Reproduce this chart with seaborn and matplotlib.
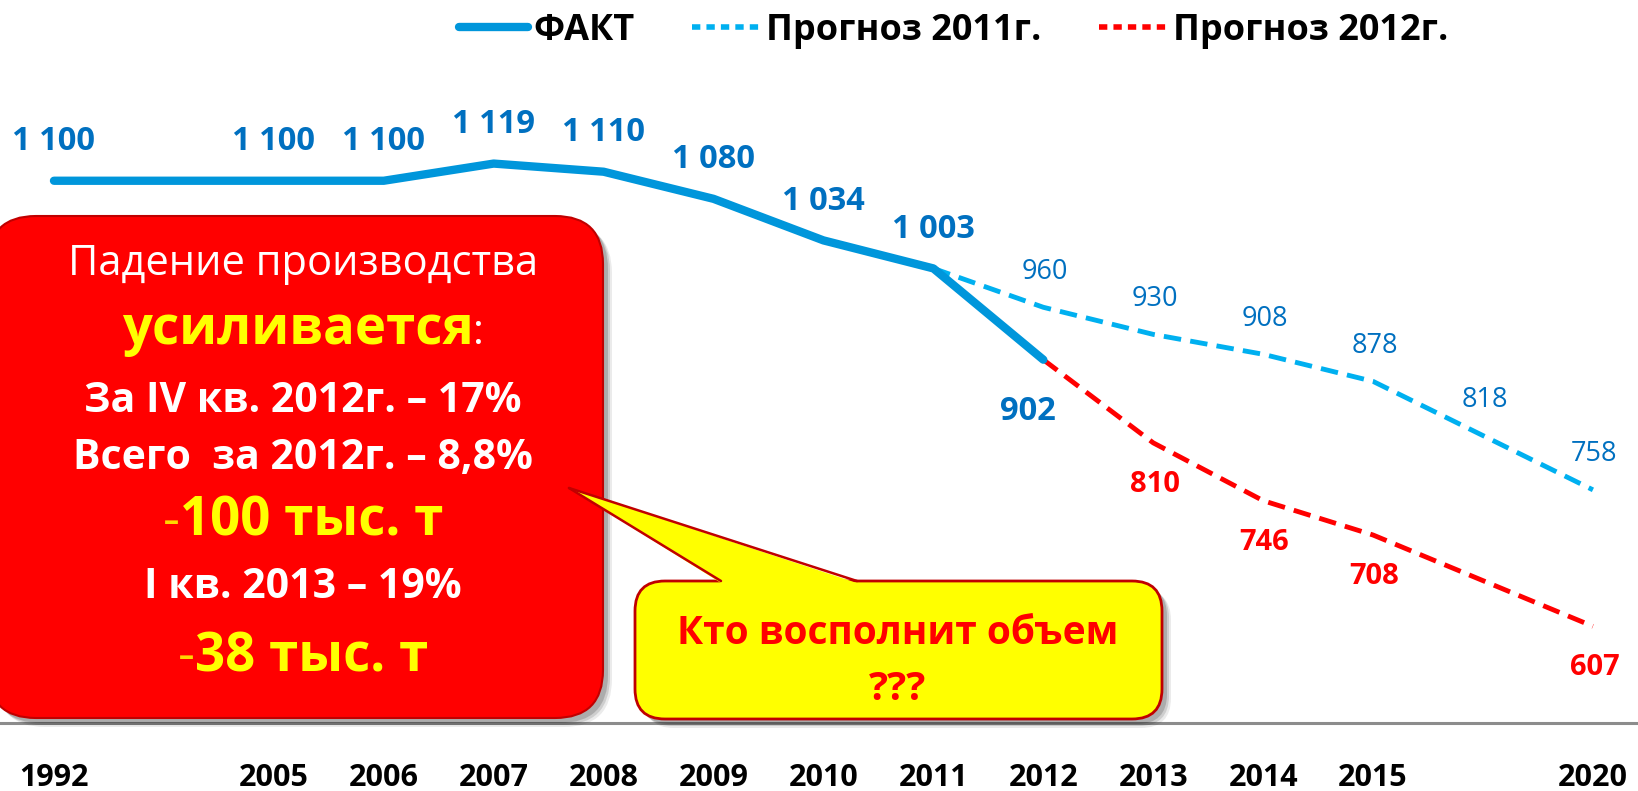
import matplotlib
matplotlib.use("Agg")
import matplotlib.pyplot as plt
import seaborn as sns
import pandas as pd
from matplotlib.patches import FancyBboxPatch, Polygon
from matplotlib.lines import Line2D
from matplotlib.transforms import IdentityTransform
from matplotlib.offsetbox import TextArea, HPacker, AnnotationBbox

# categories on the x axis (two unlabeled slots act as gaps)
categories = ["1992", "gap1", "2005", "2006", "2007", "2008", "2009", "2010",
              "2011", "2012", "2013", "2014", "2015", "gap2", "2020"]
tick_labels = [c if c.isdigit() else "" for c in categories]

fact_years = ["1992", "2005", "2006", "2007", "2008", "2009", "2010", "2011", "2012"]
fact_vals = [1100, 1100, 1100, 1119, 1110, 1080, 1034, 1003, 902]
fact_labels = ["1 100", "1 100", "1 100", "1 119", "1 110", "1 080", "1 034", "1 003", "902"]

f2011_years = ["2011", "2012", "2013", "2014", "2015", "gap2", "2020"]
f2011_vals = [1003, 960, 930, 908, 878, 818, 758]

f2012_years = ["2012", "2013", "2014", "2015", "2020"]
f2012_vals = [902, 810, 746, 708, 607]

W, H = 1638, 791

sns.set_style("white")
plt.rcParams['font.family'] = ['Open Sans', 'DejaVu Sans']
plt.rcParams['text.color'] = 'black'

fig = plt.figure(figsize=(W / 100, H / 100), dpi=100)
ax = fig.add_axes([0, 68 / H, 1, 723 / H])

pos = {c: i for i, c in enumerate(categories)}
df_fact = pd.DataFrame({"x": [pos[y] for y in fact_years], "v": fact_vals})
df_11 = pd.DataFrame({"x": [pos[y] for y in f2011_years], "v": f2011_vals})
df_12 = pd.DataFrame({"x": [pos[y] for y in f2012_years], "v": f2012_vals})

sns.lineplot(data=df_11, x="x", y="v", ax=ax, color="#00B0F0", lw=3.5,
             linestyle=(0, (3.6, 1.9)), sort=False, zorder=3)
sns.lineplot(data=df_12, x="x", y="v", ax=ax, color="#FF0000", lw=3.5,
             linestyle=(0, (3.6, 1.9)), sort=False, zorder=3)
sns.lineplot(data=df_fact, x="x", y="v", ax=ax, color="#0096DB", lw=6,
             sort=False, zorder=4, solid_capstyle="round")

# data labels
for i, (y, v) in enumerate(zip(fact_years, fact_vals)):
    if y == "2012":
        ax.annotate(fact_labels[i], (pos[y], v), xytext=(-11, -37), textcoords="offset points",
                    ha="center", va="center", fontsize=23.5, fontweight="bold", color="#0070C0")
    else:
        ax.annotate(fact_labels[i], (pos[y], v), xytext=(0, 28), textcoords="offset points",
                    ha="center", va="center", fontsize=23.5, fontweight="bold", color="#0070C0")
for y, v in zip(f2011_years[1:], f2011_vals[1:]):
    ax.annotate(str(v), (pos[y], v), xytext=(1, 25.5), textcoords="offset points",
                ha="center", va="center", fontsize=19.5, color="#0070C0")
for y, v in zip(f2012_years[1:], f2012_vals[1:]):
    ax.annotate(str(v), (pos[y], v), xytext=(1, -30), textcoords="offset points",
                ha="center", va="center", fontsize=21, fontweight="bold", color="#FF0000")

ax.set_xlim(-0.491, 14.41)
ax.set_ylim(500, 1300)
ax.set_xticks(range(len(categories)))
ax.set_xticklabels(tick_labels, fontsize=22, fontweight="bold", color="black")
ax.tick_params(axis="x", length=0, pad=29)
ax.set_yticks([])
ax.set_xlabel("")
ax.set_ylabel("")
sns.despine(ax=ax, left=True, top=True, right=True)
ax.spines["bottom"].set_color("#8C8C8C")
ax.spines["bottom"].set_linewidth(2.2)

# legend
handles = [Line2D([], [], color="#0096DB", lw=6, solid_capstyle="round"),
           Line2D([], [], color="#00B0F0", lw=4, linestyle=(0, (1.5, 1.1))),
           Line2D([], [], color="#FF0000", lw=4, linestyle=(0, (1.5, 1.1)))]
leg = ax.legend(handles, ["ФАКТ", "Прогноз 2011г.", "Прогноз 2012г."], loc="center",
                bbox_to_anchor=(954 / W, 1 - 31 / H), bbox_transform=fig.transFigure,
                ncol=3, frameon=False, prop=dict(weight="bold", size=26),
                handlelength=1.9, handletextpad=0.15, columnspacing=1.6)
for t in leg.get_texts():
    t.set_color("black")


def box(x0, top, x1, bottom, r, face, edge, lw, z):
    # pixel coords, origin top-left
    for k, a in [(9, 0.08), (7, 0.12), (5, 0.16)]:
        fig.add_artist(FancyBboxPatch((x0 + k, H - bottom - k), x1 - x0, bottom - top,
                                      boxstyle=f"round,pad=0,rounding_size={r}",
                                      transform=IdentityTransform(), facecolor="black",
                                      edgecolor="none", alpha=a, zorder=z - 1))
    fig.add_artist(FancyBboxPatch((x0, H - bottom), x1 - x0, bottom - top,
                                  boxstyle=f"round,pad=0,rounding_size={r}",
                                  transform=IdentityTransform(), facecolor=face,
                                  edgecolor=edge, lw=lw, zorder=z))


box(-12, 216, 603, 718, 48, "#FF0000", "#C00000", 1.5, 10)
box(635, 581, 1162, 719, 30, "#FFFF00", "#C00000", 2.0, 10)

tip, b1, b2 = (569, 488), (721, 581), (857, 581)
fig.add_artist(Polygon([(tip[0], H - tip[1]), (b1[0], H - b1[1] - 2), (b2[0], H - b2[1] - 2)],
                       closed=True, transform=IdentityTransform(), facecolor="#FFFF00",
                       edgecolor="none", zorder=11))
for b in (b1, b2):
    fig.add_artist(Line2D([tip[0], b[0]], [H - tip[1], H - b[1]], transform=IdentityTransform(),
                          color="#C00000", lw=1.8, zorder=12))


def mixed(parts, x, y):
    kids = [TextArea(t, textprops=p) for t, p in parts]
    pack = HPacker(children=kids, align="baseline", pad=0, sep=0)
    ab = AnnotationBbox(pack, (x / W, 1 - y / H), xycoords="figure fraction",
                        frameon=False, box_alignment=(0.5, 0.5), zorder=13)
    fig.add_artist(ab)


white_b = dict(color="white", fontweight="bold", fontsize=29.5)
mixed([("Падение производства", dict(color="white", fontsize=30))], 303, 264)
mixed([("усиливается", dict(color="#FFFF00", fontweight="bold", fontsize=38)),
       (":", dict(color="white", fontsize=30))], 303, 330)
mixed([("За IV кв. 2012г. – 17%", white_b)], 303, 401)
mixed([("Всего  за 2012г. – 8,8%", white_b)], 303, 458)
mixed([("-", dict(color="#FFD700", fontsize=38)),
       ("100 тыс. т", dict(color="#FFFF00", fontweight="bold", fontsize=38))], 303, 522)
mixed([("I кв. 2013 – 19%", white_b)], 303, 587)
mixed([("-", dict(color="#FFD700", fontsize=38)),
       ("38 тыс. т", dict(color="#FFFF00", fontweight="bold", fontsize=38))], 303, 657)

fig.text(898 / W, 1 - 634 / H, "Кто восполнит объем", ha="center", va="center",
         fontsize=28, fontweight="bold", color="#FF0000", zorder=13)
fig.text(898 / W, 1 - 690 / H, "???", ha="center", va="center",
         fontsize=29, fontweight="bold", color="#FF0000", zorder=13)

fig.savefig("out.png", dpi=100)
